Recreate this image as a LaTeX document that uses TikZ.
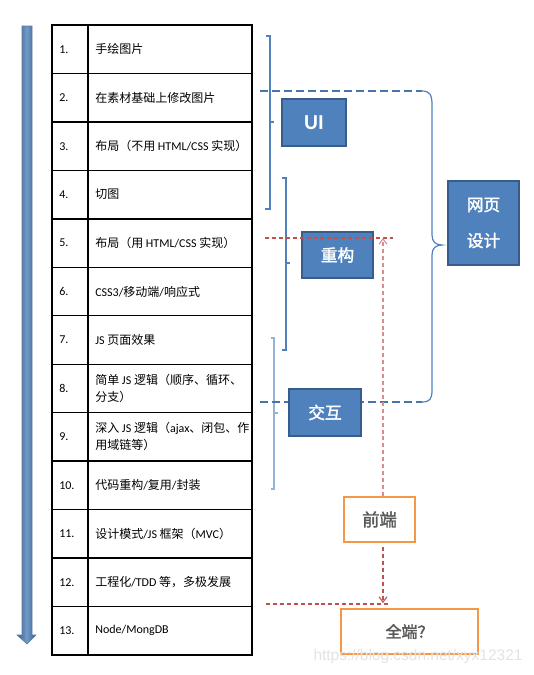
\documentclass[tikz,border=0pt]{standalone}
\usepackage{fontspec}
\setmainfont{Carlito}
\newfontfamily\cjk{Noto Sans CJK SC}
\newfontfamily\cjkb[FakeBold=2]{Noto Sans CJK SC}
\newfontfamily\wmfont{Liberation Sans}
\usetikzlibrary{arrows.meta}
\definecolor{boxblue}{HTML}{4F81BD}
\definecolor{boxedge}{HTML}{385D8A}
\definecolor{orng}{HTML}{F79646}
\definecolor{redd}{HTML}{C0504D}
\definecolor{lblue}{HTML}{95B3D7}
\definecolor{grayt}{HTML}{595959}
\newcommand\zh[1]{{\cjk #1}}
\tikzset{
  tableline/.style={line width=1pt, black},
  numtxt/.style={anchor=west, inner sep=0pt, font=\fontsize{9}{12.75}\selectfont},
  rowtxt/.style={anchor=west, inner sep=0pt, align=left, font=\fontsize{9}{12.75}\selectfont},
  bluebox/.style={draw=boxedge, fill=boxblue, line width=1.5pt, text=white, inner sep=0pt},
  orangebox/.style={draw=orng, fill=white, line width=1.6pt, text=grayt, inner sep=0pt},
  brk/.style={draw=boxblue, line width=0.9pt},
  brklight/.style={draw=lblue, line width=1.1pt},
  bluedash/.style={draw=boxblue!90!black, line width=0.9pt, dash pattern=on 6pt off 3pt},
  reddash/.style={draw=redd, line width=0.8pt, dash pattern=on 3pt off 2.2pt},
  redarrow/.style={reddash, -{Straight Barb[length=4pt,width=6pt]}},
}
\begin{document}
\begin{tikzpicture}[x=0.75pt,y=-0.75pt]
\useasboundingbox (0,0) rectangle (533,675);

% left timeline arrow
\path[shading=axis, shading angle=90, left color=boxedge, right color=boxedge, middle color=boxblue!80!white, draw=boxedge!80, line width=0.4pt]
  (22,26) -- (32,26) -- (32,635) -- (36,635) -- (27,644) -- (17,635) -- (22,635) -- cycle;

% table
\draw[tableline] (52,25) rectangle (252,655);
\draw[tableline] (88,25) -- (88,655);
\foreach \k in {1,...,12} {
  \draw[tableline] (52,25+48.46*\k) -- (252,25+48.46*\k);
}
\foreach \k in {1,...,13} {
  \node[numtxt] (n\k) at (59,25+48.46*\k-24.23) {\k.};
}
\foreach \k/\t in {
  1/{\zh{手绘图片}},
  2/{\zh{在素材基础上修改图片}},
  3/{\zh{布局（不用} HTML/CSS \zh{实现）}},
  4/{\zh{切图}},
  5/{\zh{布局（用} HTML/CSS \zh{实现）}},
  6/{CSS3/\zh{移动端}/\zh{响应式}},
  7/{JS \zh{页面效果}},
  8/{\zh{简单} JS \zh{逻辑（顺序、循环、}\\\zh{分支）}},
  9/{\zh{深入} JS \zh{逻辑（}ajax\zh{、闭包、作}\\\zh{用域链等）}},
  10/{\zh{代码重构}/\zh{复用}/\zh{封装}},
  11/{\zh{设计模式}/JS \zh{框架（}MVC\zh{）}},
  12/{\zh{工程化}/TDD \zh{等，多极发展}},
  13/{Node/MongDB}} {
  \node[rowtxt] (t\k) at (95,25+48.46*\k-24.23) {\t};
}

% brackets
\draw[brk] (266,36) -- (270,36) -- (270,209) -- (265,209);
\draw[brk] (270,122) -- (274,122);
\draw[brk] (282,178) -- (286,178) -- (286,350) -- (282,350);
\draw[brk] (286,263) -- (290,263);
\draw[brklight] (271,338) -- (274,338) -- (274,489) -- (271,489);
\draw[brklight] (274,413) -- (278,413);

% big brace and dashed guides
\draw[brk] (422,91) .. controls (430,91) and (432,95) .. (432,105)
  -- (432,235) .. controls (432,242) and (436,245) .. (442,245)
  .. controls (436,245) and (432,248) .. (432,255)
  -- (432,390) .. controls (432,399) and (430,402) .. (422,402);
\draw[bluedash] (260,91) -- (422,91);
\draw[bluedash] (260,402) -- (422,402);

% boxes
\node[bluebox, minimum width=48pt, minimum height=35.25pt, font=\fontsize{16}{16}\selectfont\bfseries] (ui) at (314,122.5) {UI};
\node[bluebox, minimum width=53.25pt, minimum height=34.5pt, font=\fontsize{12.5}{14}\selectfont\cjkb] (cg) at (337.5,255) {重构};
\node[bluebox, minimum width=53.25pt, minimum height=63pt, align=center, font=\fontsize{12.5}{27}\selectfont\cjkb] (wy) at (483.5,223) {网页\\设计};
\node[bluebox, minimum width=54pt, minimum height=35.25pt, font=\fontsize{12.5}{14}\selectfont\cjkb] (jh) at (325,412.5) {交互};
\node[orangebox, minimum width=53.25pt, minimum height=33.75pt, font=\fontsize{13}{14}\selectfont\cjkb] (qd) at (379.5,519.5) {前端};
\node[orangebox, minimum width=102.75pt, minimum height=33.75pt, font=\fontsize{12}{14}\selectfont\cjkb] (qa) at (409.5,631.5) {全端？};

% red dashed guides and arrows
\coordinate (ftop) at (383,238);
\coordinate (fbot) at (383,603);
\draw[reddash] (265,238) -- (393,238);
\draw[reddash] (266,604) -- (389,604);
\draw[redarrow, draw=redd!65] (qd.north -| ftop) -- (ftop);
\draw[redarrow] ([yshift=-3pt]qd.south -| fbot) -- (fbot);

% watermark
\node[text=gray!22, inner sep=0pt, font=\wmfont\fontsize{11.6}{11.6}\selectfont] (wm) at (418,656) {https://blog.csdn.net/xyx12321};
\end{tikzpicture}
\end{document}
